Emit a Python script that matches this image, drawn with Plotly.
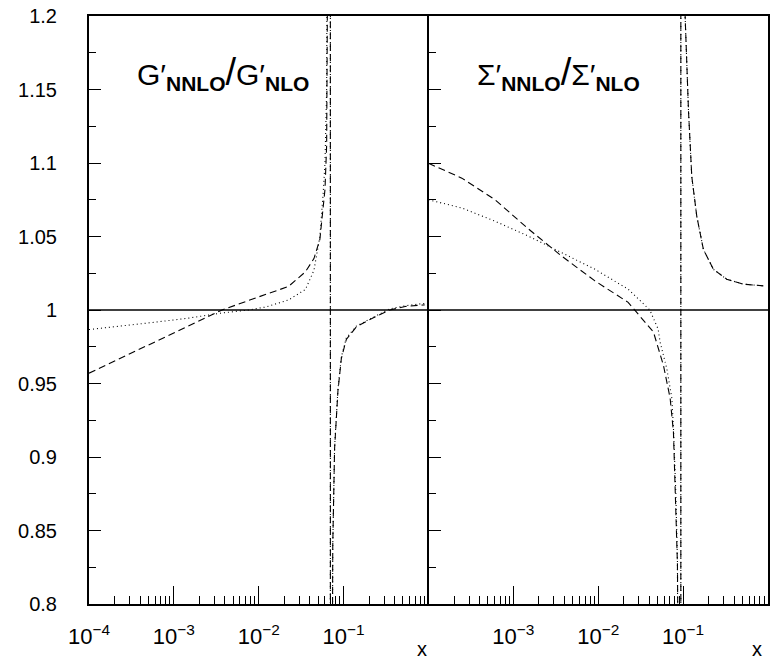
import plotly.graph_objects as go

# ---------------- data ----------------
# Left panel: G'_NNLO / G'_NLO
g_dash_x = [1e-4, 2.5e-4, 6e-4, 1.5e-3, 3.7e-3, 9e-3, 0.0224, 0.0355, 0.0447, 0.0525,
            0.0603, 0.0631, 0.0653, 0.0668, 0.0684, 0.0698, 0.0698, 0.0714, 0.0730,
            0.0745, 0.0783, 0.0857, 0.094, 0.1076, 0.141, 0.221, 0.348, 0.547, 0.857, 0.9]
g_dash_y = [0.957, 0.968, 0.978, 0.989, 1.000, 1.008, 1.016, 1.026, 1.035, 1.048,
            1.082, 1.112, 1.165, 1.245, 1.50, 3.0, -1.0, 0.55, 0.76,
            0.84, 0.906, 0.945, 0.967, 0.980, 0.9885, 0.9946, 1.000, 1.0025, 1.0034, 1.0035]

g_dot_x = [1e-4, 2.5e-4, 6e-4, 1.5e-3, 3.7e-3, 7.6e-3, 1.2e-2, 0.0224, 0.0355, 0.0447,
           0.0525, 0.0575, 0.0603, 0.0631, 0.0653, 0.0668, 0.0684, 0.0698, 0.0698, 0.0714,
           0.0730, 0.0745, 0.0783, 0.0857, 0.094, 0.1076, 0.141, 0.221, 0.348, 0.547, 0.9]
g_dot_y = [0.9867, 0.989, 0.9917, 0.9945, 0.998, 1.000, 1.002, 1.0068, 1.014, 1.027,
           1.050, 1.080, 1.100, 1.150, 1.240, 1.380, 1.80, 3.0, -1.0, 0.55,
           0.76, 0.84, 0.907, 0.946, 0.968, 0.981, 0.989, 0.995, 1.0008, 1.003, 1.0045]

# Right panel: Sigma'_NNLO / Sigma'_NLO
s_dash_x = [1e-4, 2.47e-4, 6.08e-4, 1.5e-3, 3.7e-3, 9.14e-3, 0.0225, 0.027, 0.0447, 0.0586,
            0.0703, 0.0769, 0.082, 0.0857, 0.0877, 0.0897, 0.0918, 0.094, 0.094,
            0.0962, 0.0984, 0.1007, 0.1057, 0.1156, 0.1265, 0.1449, 0.1734, 0.227,
            0.327, 0.513, 0.881]
s_dash_y = [1.0998, 1.0897, 1.075, 1.0552, 1.0367, 1.0198, 1.0052, 1.000, 0.985, 0.9624,
            0.940, 0.917, 0.872, 0.827, 0.74, 0.615, 0.24, -1.0, 3.0,
            1.90, 1.47, 1.32, 1.199, 1.1358, 1.0907, 1.0637, 1.0412, 1.0277,
            1.0209, 1.0176, 1.0164]

s_dot_x = [1e-4, 2.47e-4, 6.08e-4, 1.5e-3, 3.7e-3, 9.14e-3, 0.0225, 0.0405, 0.0508, 0.0536,
           0.0643, 0.0736, 0.0769, 0.082, 0.0857, 0.0877, 0.0897, 0.0918, 0.094, 0.094,
           0.0962, 0.0984, 0.1007, 0.1057, 0.1156, 0.1265, 0.1449, 0.1734, 0.227,
           0.327, 0.513, 0.881]
s_dot_y = [1.075, 1.0694, 1.0604, 1.0503, 1.039, 1.0277, 1.0142, 1.000, 0.987, 0.978,
           0.960, 0.940, 0.920, 0.876, 0.83, 0.745, 0.62, 0.25, -1.0, 3.0,
           1.90, 1.47, 1.32, 1.199, 1.1358, 1.0907, 1.0637, 1.0412, 1.0277,
           1.0209, 1.0176, 1.0164]

y_ticks = [0.8, 0.85, 0.9, 0.95, 1.0, 1.05, 1.1, 1.15, 1.2]
y_labels = ["0.8", "0.85", "0.9", "0.95", "1", "1.05", "1.1", "1.15", "1.2"]
x_ticks_left = [1e-4, 1e-3, 1e-2, 1e-1]
x_labels_left = ["10<sup>−4</sup>", "10<sup>−3</sup>", "10<sup>−2</sup>", "10<sup>−1</sup>"]
x_ticks_right = [1e-3, 1e-2, 1e-1]
x_labels_right = ["10<sup>−3</sup>", "10<sup>−2</sup>", "10<sup>−1</sup>"]
minor_x = [m * 10.0 ** e for e in (-4, -3, -2, -1) for m in range(2, 10)]

FONT = "Liberation Sans, Arial, sans-serif"
DASH = "7px,4px"
DOT = "1px,3px"

fig = go.Figure()
line_common = dict(color="black", width=1.1)
fig.add_trace(go.Scatter(x=g_dash_x, y=g_dash_y, mode="lines", line=dict(**line_common, dash=DASH),
                         xaxis="x", yaxis="y", showlegend=False, hoverinfo="skip"))
fig.add_trace(go.Scatter(x=g_dot_x, y=g_dot_y, mode="lines", line=dict(**line_common, dash=DOT),
                         xaxis="x", yaxis="y", showlegend=False, hoverinfo="skip"))
fig.add_trace(go.Scatter(x=s_dash_x, y=s_dash_y, mode="lines", line=dict(**line_common, dash=DASH),
                         xaxis="x2", yaxis="y2", showlegend=False, hoverinfo="skip"))
fig.add_trace(go.Scatter(x=s_dot_x, y=s_dot_y, mode="lines", line=dict(**line_common, dash=DOT),
                         xaxis="x2", yaxis="y2", showlegend=False, hoverinfo="skip"))

xcommon = dict(type="log", range=[-4, 0], showline=True, linecolor="black", linewidth=2,
               mirror=True, ticks="inside", ticklen=18, tickwidth=1.3, tickcolor="black",
               showgrid=False, zeroline=False, automargin=False,
               tickfont=dict(family=FONT, size=22, color="black"),
               ticklabelstandoff=12,
               minor=dict(ticks="inside", ticklen=8, tickwidth=1.3, tickcolor="black",
                          tickvals=minor_x, showgrid=False))
ycommon = dict(range=[0.8, 1.2], showline=True, linecolor="black", linewidth=2,
               ticks="inside", ticklen=12, tickwidth=1.3, tickcolor="black",
               showgrid=False, zeroline=False, tickvals=y_ticks, ticktext=y_labels,
               automargin=False,
               tickfont=dict(family=FONT, size=20, color="black"),
               minor=dict(ticks="inside", ticklen=7, tickwidth=1.3, tickcolor="black",
                          dtick=0.025, tick0=0.8, showgrid=False))

fig.update_layout(
    width=780, height=661,
    margin=dict(l=89, r=12, t=16, b=57, autoexpand=False),
    paper_bgcolor="white", plot_bgcolor="white",
    xaxis=dict(**xcommon, domain=[0, 0.5], anchor="y",
               tickvals=x_ticks_left, ticktext=x_labels_left),
    xaxis2=dict(**xcommon, domain=[0.5, 1], anchor="y2",
                tickvals=x_ticks_right, ticktext=x_labels_right),
    yaxis=dict(**ycommon, anchor="x", mirror=False, ticklabelstandoff=26),
    yaxis2=dict(**ycommon, anchor="x2", mirror=True, matches="y", showticklabels=False),
)

# horizontal reference line at 1
fig.add_shape(type="line", xref="paper", yref="y", x0=0, x1=1, y0=1, y1=1,
              line=dict(color="black", width=1.3))

slash = "<span style='font-size:38px'>/</span>"
fig.add_annotation(xref="paper", yref="paper", x=0.197, y=0.903, showarrow=False,
                   xanchor="center", yanchor="middle",
                   text="G′<sub><b>NNLO</b></sub>" + slash + "G′<sub><b>NLO</b></sub>",
                   font=dict(family=FONT, size=30, color="black"))
fig.add_annotation(xref="paper", yref="paper", x=0.691, y=0.903, showarrow=False,
                   xanchor="center", yanchor="middle",
                   text="Σ′<sub><b>NNLO</b></sub>" + slash + "Σ′<sub><b>NLO</b></sub>",
                   font=dict(family=FONT, size=30, color="black"))
for xp in (0.490, 0.984):
    fig.add_annotation(xref="paper", yref="paper", x=xp, y=-0.0765, showarrow=False,
                       xanchor="center", yanchor="middle",
                       text="x", font=dict(family=FONT, size=20, color="black"))

fig.write_html(
    "out.html",
    config={"displayModeBar": False},
    post_script="document.body.style.margin='0';document.body.style.overflow='hidden';",
)
